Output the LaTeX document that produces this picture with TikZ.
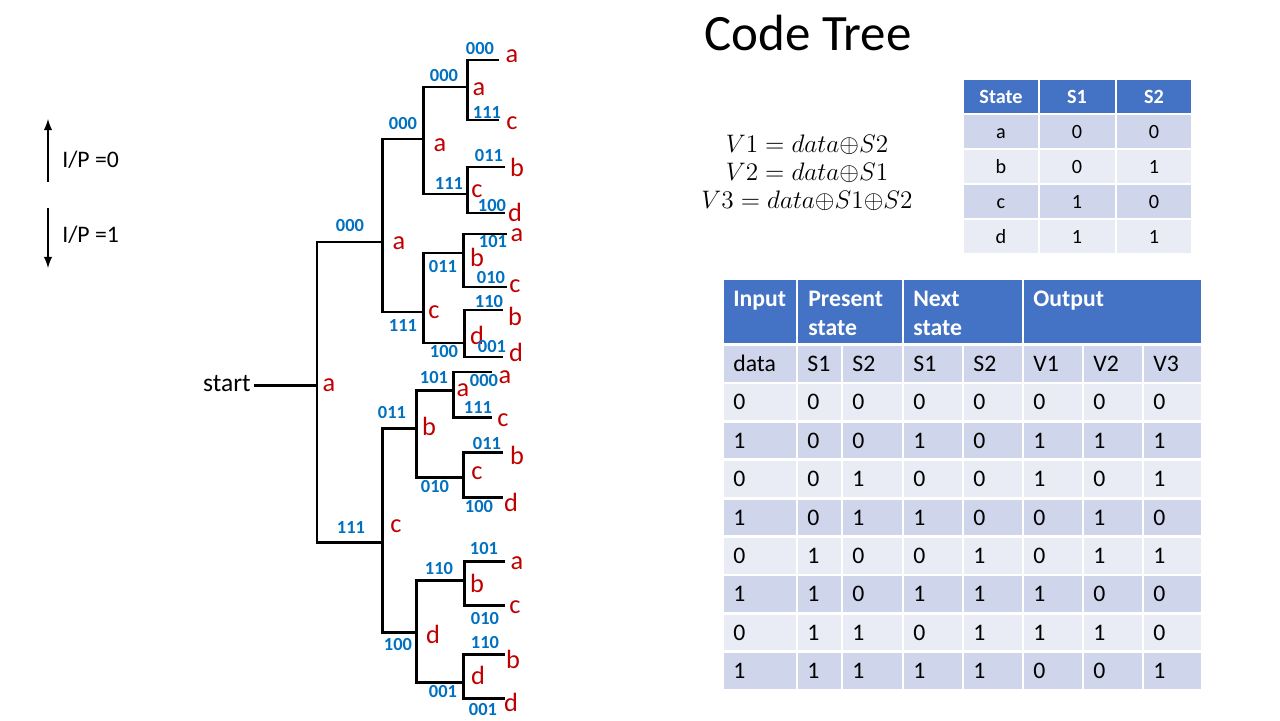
\documentclass[tikz,border=0pt]{standalone}
\usepackage{fontspec}
\setmainfont{Carlito}
\usetikzlibrary{positioning}
\usetikzlibrary{arrows}
\definecolor{codeblue}{HTML}{0070C0}
\definecolor{statered}{HTML}{C00000}
\definecolor{headblue}{HTML}{4472C4}
\definecolor{rowdark}{HTML}{CFD5EA}
\definecolor{rowlight}{HTML}{E9EBF5}
\tikzset {
  x=0.02cm, y=-0.02cm,
  % branches of the code tree
  branch/.style={line width=1.7pt},
  % output bits written on a branch
  bits/.style={text=codeblue, font=\bfseries\fontsize{10.5}{12}\selectfont, inner sep=0pt},
  % state reached by a branch
  st/.style={text=statered, font=\fontsize{15}{18}\selectfont, inner sep=0pt},
  % legend arrows
  legend/.style={line width=1.2pt, -latex},
  % table cells
  cell/.style={draw=white, line width=1.5pt},
  hcell/.style={cell, fill=headblue},
  small/.style={font=\fontsize{11.5}{14}\selectfont, inner sep=0pt},
  smallhead/.style={font=\bfseries\fontsize{11.5}{14}\selectfont, text=white, inner sep=0pt},
  big/.style={font=\fontsize{13.5}{16.4}\selectfont, inner sep=0pt},
  bighead/.style={font=\bfseries\fontsize{13.5}{16.4}\selectfont, text=white, inner sep=0pt,
    anchor=north west, align=left},
  eqn/.style={font=\fontsize{15}{18}\selectfont},
}

\begin{document}
\begin{tikzpicture}
  \useasboundingbox (0,0) rectangle (1280,720);

  \node[font=\fontsize{29}{34}\selectfont, anchor=base] (title) at (808,50) {Code Tree};

  % legend
  \coordinate (up0) at (48,182);
  \coordinate (up1) at (48,119);
  \coordinate (dn0) at (48,208);
  \coordinate (dn1) at (48,268);
  \draw[legend] (up0) -- (up1);
  \draw[legend] (dn0) -- (dn1);
  \node[big, anchor=west] (ip0) at (62,160) {I/P =0};
  \node[big, anchor=west] (ip1) at (62,235) {I/P =1};

  % tree junctions
  \node[font=\fontsize{14.5}{17}\selectfont, inner sep=0pt] (start) at (227,384) {start};
  \coordinate (s0) at (317,385);
  \coordinate (n0) at (382,242);
  \coordinate (n1) at (382,542);
  \coordinate (n00) at (423,139);
  \coordinate (n01) at (423,312);
  \coordinate (n10) at (416,428);
  \coordinate (n11) at (416,632);
  \coordinate (n000) at (467,87);
  \coordinate (n001) at (467,194);
  \coordinate (n010) at (463,253);
  \coordinate (n011) at (464,343);
  \coordinate (n100) at (453,390);
  \coordinate (n101) at (463,477);
  \coordinate (n110) at (464,580);
  \coordinate (n111) at (463,682);
  % leaves
  \coordinate (l0000) at (499,60);
  \coordinate (l0001) at (499,120);
  \coordinate (l0010) at (505,167);
  \coordinate (l0011) at (505,213);
  \coordinate (l0100) at (507,234);
  \coordinate (l0101) at (507,287);
  \coordinate (l0110) at (503,310);
  \coordinate (l0111) at (503,357);
  \coordinate (l1000) at (492,372);
  \coordinate (l1001) at (492,417);
  \coordinate (l1010) at (503,452);
  \coordinate (l1011) at (503,497);
  \coordinate (l1100) at (505,561);
  \coordinate (l1101) at (505,605);
  \coordinate (l1110) at (505,654);
  \coordinate (l1111) at (505,698);

  \draw[branch] (s0 -| start.east) ++(3,0) -- (s0);
  \draw[branch] (s0) |- (n0);
  \draw[branch] (s0) |- (n1);

  \draw[branch] (n0) |- (n00);
  \draw[branch] (n0) |- (n01);
  \draw[branch] (n1) |- (n10);
  \draw[branch] (n1) |- (n11);

  \draw[branch] (n00) |- (n000);
  \draw[branch] (n00) |- (n001);
  \draw[branch] (n01) |- (n010);
  \draw[branch] (n01) |- (n011);
  \draw[branch] (n10) |- (n100);
  \draw[branch] (n10) |- (n101);
  \draw[branch] (n11) |- (n110);
  \draw[branch] (n11) |- (n111);

  \draw[branch] (n000) |- (l0000);
  \draw[branch] (n000) |- (l0001);
  \draw[branch] (n001) |- (l0010);
  \draw[branch] (n001) |- (l0011);
  \draw[branch] (n010) |- (l0100);
  \draw[branch] (n010) |- (l0101);
  \draw[branch] (n011) |- (l0110);
  \draw[branch] (n011) |- (l0111);
  \draw[branch] (n100) |- (l1000);
  \draw[branch] (n100) |- (l1001);
  \draw[branch] (n101) |- (l1010);
  \draw[branch] (n101) |- (l1011);
  \draw[branch] (n110) |- (l1100);
  \draw[branch] (n110) |- (l1101);
  \draw[branch] (n111) |- (l1110);
  \draw[branch] (n111) |- (l1111);

  % states and output bits
  \node[st] (s) at (329,385) {a};
  \node[bits] (b0) at (350,226) {000};
  \node[st] (s0l) at (399,243) {a};
  \node[bits] (b1) at (351,527) {111};
  \node[st] (s1) at (396,526) {c};

  \node[bits] (b00) at (403,124) {000};
  \node[st] (s00) at (440,145) {a};
  \node[bits] (b01) at (403,326) {111};
  \node[st] (s01) at (434,312) {c};
  \node[bits] (b10) at (392,413) {011};
  \node[st] (s10) at (429,426) {b};
  \node[bits] (b11) at (398,645) {100};
  \node[st] (s11) at (433,634) {d};

  \node[bits] (b000) at (444,76) {000};
  \node[st] (s000) at (479,89) {a};
  \node[bits] (b001) at (449,184) {111};
  \node[st] (s001) at (477,191) {c};
  \node[bits] (b010) at (443,267) {011};
  \node[st] (s010) at (477,257) {b};
  \node[bits] (b011) at (444,352) {100};
  \node[st] (s011) at (477,335) {d};
  \node[bits] (b100) at (434,378) {101};
  \node[st] (s100) at (463,390) {a};
  \node[bits] (b101) at (435,487) {010};
  \node[st] (s101) at (477,473) {c};
  \node[bits] (b110) at (439,569) {110};
  \node[st] (s110) at (477,583) {b};
  \node[bits] (b111) at (443,692) {001};
  \node[st] (s111) at (478,675) {d};

  \node[bits] (b0000) at (480,49) {000};
  \node[st] (s0000) at (512,56) {a};
  \node[bits] (b0001) at (487,113) {111};
  \node[st] (s0001) at (512,123) {c};
  \node[bits] (b0010) at (489,156) {011};
  \node[st] (s0010) at (517,167) {b};
  \node[bits] (b0011) at (492,206) {100};
  \node[st] (s0011) at (515,212) {d};
  \node[bits] (b0100) at (493,242) {101};
  \node[st] (s0100) at (517,235) {a};
  \node[bits] (b0101) at (491,278) {010};
  \node[st] (s0101) at (515,286) {c};
  \node[bits] (b0110) at (489,302) {110};
  \node[st] (s0110) at (515,316) {b};
  \node[bits] (b0111) at (492,347) {001};
  \node[st] (s0111) at (516,352) {d};
  \node[bits] (b1000) at (484,381) {000};
  \node[st] (s1000) at (505,377) {a};
  \node[bits] (b1001) at (478,408) {111};
  \node[st] (s1001) at (503,420) {c};
  \node[bits] (b1010) at (487,444) {011};
  \node[st] (s1010) at (517,455) {b};
  \node[bits] (b1011) at (479,507) {100};
  \node[st] (s1011) at (511,502) {d};
  \node[bits] (b1100) at (484,549) {101};
  \node[st] (s1100) at (517,563) {a};
  \node[bits] (b1101) at (485,619) {010};
  \node[st] (s1101) at (515,607) {c};
  \node[bits] (b1110) at (485,643) {110};
  \node[st] (s1110) at (513,659) {b};
  \node[bits] (b1111) at (483,710) {001};
  \node[st] (s1111) at (511,702) {d};

  % output equations
  \node[eqn] (eq1) at (807,145) {$V1 = data{\oplus}S2$};
  \node[eqn] (eq2) at (807,173) {$V2 = data{\oplus}S1$};
  \node[eqn] (eq3) at (807,201) {$V3 = data{\oplus}S1{\oplus}S2$};

  % state table
  \draw[hcell] (963,79) rectangle (1039,114);
  \draw[hcell] (1039,79) rectangle (1116,114);
  \draw[hcell] (1116,79) rectangle (1192,114);
  \node[smallhead] (hst) at (1001,96.5) {State};
  \node[smallhead] (hs1) at (1077,96.5) {S1};
  \node[smallhead] (hs2) at (1154,96.5) {S2};
  \foreach \nm/\a/\b [count=\i] in {a/0/0, b/0/1, c/1/0, d/1/1} {
    \ifodd\i \def\rowcol{rowdark}\else\def\rowcol{rowlight}\fi
    \draw[cell, fill=\rowcol] (963,79+35*\i) rectangle (1039,114+35*\i);
    \draw[cell, fill=\rowcol] (1039,79+35*\i) rectangle (1116,114+35*\i);
    \draw[cell, fill=\rowcol] (1116,79+35*\i) rectangle (1192,114+35*\i);
    \node[small, anchor=base] (q\i) at (1001,103+35*\i) {\nm};
    \node[small, anchor=base] (q\i-1) at (1077,103+35*\i) {\a};
    \node[small, anchor=base] (q\i-2) at (1154,103+35*\i) {\b};
  }

  % state transition table
  \draw[hcell] (723,279) rectangle (797,344.6);
  \draw[hcell] (797,279) rectangle (903,344.6);
  \draw[hcell] (903,279) rectangle (1023,344.6);
  \draw[hcell] (1023,279) rectangle (1202,344.6);
  \node[bighead] (hin) at (733,290.5) {Input};
  \node[bighead] (hps) at (808,290.5) {Present\\state};
  \node[bighead] (hns) at (913,290.5) {Next\\state};
  \node[bighead] (hout) at (1033,290.5) {Output};
  \foreach \row [count=\i from 0] in {{data,S1,S2,S1,S2,V1,V2,V3},
      {0,0,0,0,0,0,0,0}, {1,0,0,1,0,1,1,1}, {0,0,1,0,0,1,0,1}, {1,0,1,1,0,0,1,0},
      {0,1,0,0,1,0,1,1}, {1,1,0,1,1,1,0,0}, {0,1,1,0,1,1,1,0}, {1,1,1,1,1,0,0,1}} {
    \ifodd\i \def\rowcol{rowlight}\else\def\rowcol{rowdark}\fi
    \foreach \v [count=\j] in \row {
      \pgfmathsetmacro\xl{{723,797,842,903,963,1023,1083,1143}[\j-1]}
      \pgfmathsetmacro\xr{{797,842,903,963,1023,1083,1143,1202}[\j-1]}
      \draw[cell, fill=\rowcol] (\xl,344.6+38.4*\i) rectangle (\xr,383+38.4*\i);
      \node[big, anchor=base west] (t\i-\j) at (\xl+10,371.5+38.4*\i) {\v};
    }
  }
\end{tikzpicture}
\end{document}
